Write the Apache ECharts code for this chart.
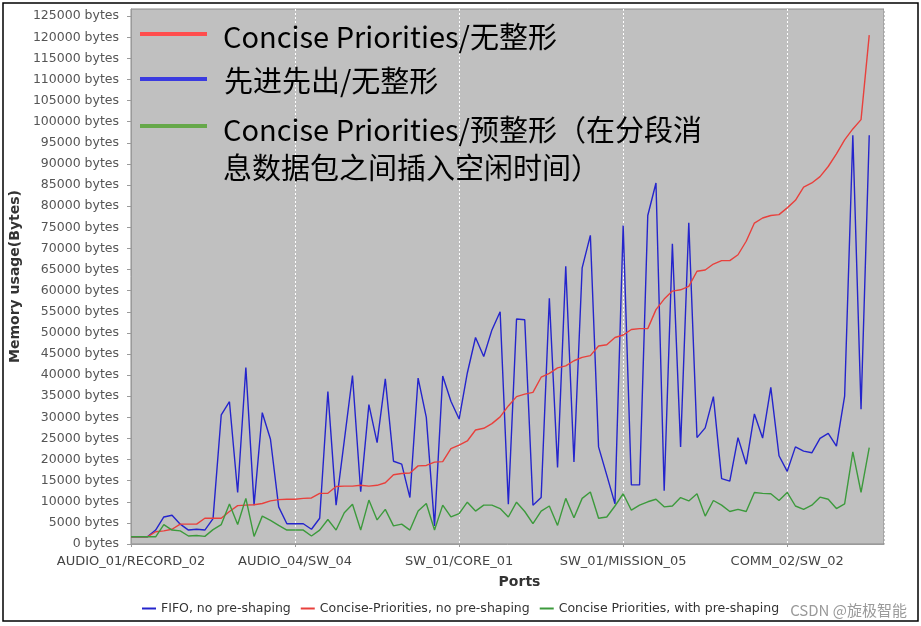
<!DOCTYPE html>
<html>
<head>
<meta charset="utf-8">
<script src="https://cdn.jsdelivr.net/npm/echarts@6/dist/echarts.min.js"></script>
<style>html,body{margin:0;padding:0;background:#fff;}#c{width:921px;height:626px;}</style>
</head>
<body>
<div id="c"></div>
<script>
// Tick labels of the port axis (one every 20 ports)
const portLabels = ['AUDIO_01/RECORD_02', 'AUDIO_04/SW_04', 'SW_01/CORE_01', 'SW_01/MISSION_05', 'COMM_02/SW_02'];
const portLabelStep = 20;

const seriesNames = ['FIFO, no pre-shaping', 'Concise-Priorities, no pre-shaping', 'Concise Priorities, with pre-shaping'];

// FIFO, no pre-shaping
const fifoNoShaping = [
  1700, 1700, 1700, 3300, 6400, 6800, 4700, 3300, 3500, 3300,
  6000, 30600, 33700, 12200, 41800, 9200, 31100, 24800, 8800, 4800,
  4800, 4800, 3500, 6100, 36100, 9200, 24500, 39900, 12400, 33000,
  24000, 39100, 19600, 18900, 11000, 39300, 30000, 4300, 39800, 33800,
  29600, 40500, 48900, 44400, 50700, 55000, 9400, 53300, 53100, 9200,
  11000, 58200, 18100, 65800, 19400, 65400, 73100, 23000, 16300, 9500,
  75400, 14000, 14000, 77800, 85500, 12600, 71100, 23000, 76100, 25200,
  27500, 34900, 15500, 14900, 25200, 18900, 30800, 25100, 37100, 20900,
  17200, 23000, 22000, 21600, 25000, 26200, 23200, 35000, 96800, 31900,
  96800
];

// Concise-Priorities, no pre-shaping
const cpNoShaping = [
  1700, 1700, 1700, 2900, 3100, 3500, 4700, 4700, 4700, 6100,
  6100, 6100, 7700, 9100, 9200, 9300, 9600, 10200, 10500, 10600,
  10600, 10800, 10900, 12000, 12000, 13600, 13700, 13700, 13900, 13700,
  13900, 14500, 16400, 16700, 16800, 18500, 18600, 19400, 19500, 22600,
  23400, 24400, 27000, 27400, 28500, 30100, 32700, 34900, 35500, 35900,
  39500, 40400, 41700, 42200, 43400, 44200, 44600, 46900, 47200, 48900,
  49500, 50800, 51000, 51000, 55500, 58000, 59900, 60200, 61000, 64600,
  64900, 66300, 67100, 67100, 68500, 71700, 76000, 77200, 77800, 78000,
  79600, 81400, 84500, 85500, 87000, 89400, 92400, 95700, 98300, 100500,
  120500
];

// Concise Priorities, with pre-shaping
const cpPreShaping = [
  1700, 1700, 1700, 1700, 4600, 3300, 3100, 1900, 2000, 1800,
  3400, 4600, 9500, 4600, 10800, 1800, 6600, 5600, 4400, 3300,
  3300, 3300, 1900, 3300, 5800, 3300, 7400, 9400, 3300, 10400,
  5700, 8200, 4300, 4700, 3300, 7800, 9600, 3300, 9200, 6400,
  7200, 9900, 7800, 9200, 9200, 8400, 6400, 9900, 7700, 4800,
  7800, 9000, 4400, 10800, 6200, 10800, 12300, 6100, 6400, 9000,
  11900, 8000, 9200, 10000, 10600, 8800, 9000, 11000, 10200, 11900,
  6600, 10300, 9200, 7700, 8200, 7700, 12200, 12000, 11900, 10300,
  12200, 9000, 8200, 9200, 11100, 10600, 8400, 9500, 21800, 12200,
  22800
];

// Annotation legend (overlay text in the plot)
const annoTexts = ['Concise Priorities/无整形', '先进先出/无整形', 'Concise Priorities/预整形（在分段消\n息数据包之间插入空闲时间）'];

const colors = ['#2424cc', '#e8403c', '#3c9a3c'];
const annoColors = ['#ff4d4d', '#3a3ae0', '#66a84a'];

const toPts = arr => arr.map((v, i) => [i, v]);

const chart = echarts.init(document.getElementById('c'));
const option = {
  animation: false,
  backgroundColor: '#fff',
  grid: {
    left: 130, right: 37, top: 9, bottom: 82,
    show: true, backgroundColor: '#c0c0c0', borderColor: '#8a8a8a', borderWidth: 1
  },
  xAxis: {
    type: 'value', min: 0, max: 91.8, interval: portLabelStep,
    name: 'Ports', nameLocation: 'middle', nameGap: 31,
    nameTextStyle: { fontFamily: 'DejaVu Sans', fontSize: 14, fontWeight: 'bold', color: '#333', padding: [0, 0, 0, 24] },
    axisLine: { show: true, lineStyle: { color: '#9a9a9a', width: 1 } },
    axisTick: { show: true, length: 3, lineStyle: { color: '#9a9a9a' } },
    axisLabel: {
      showMaxLabel: false, margin: 11,
      fontFamily: 'DejaVu Sans', fontSize: 13, color: '#444',
      formatter: v => portLabels[Math.round(v / portLabelStep)] || ''
    },
    splitLine: { show: true, lineStyle: { color: '#ffffff', type: [2, 2], width: 1 } }
  },
  yAxis: {
    type: 'value', min: 0, max: 126700, interval: 5000,
    name: 'Memory usage(Bytes)', nameLocation: 'middle', nameGap: 108,
    nameTextStyle: { fontFamily: 'DejaVu Sans', fontSize: 14, fontWeight: 'bold', color: '#333' },
    axisLine: { show: true, lineStyle: { color: '#9a9a9a', width: 1 } },
    axisTick: { show: true, length: 4, lineStyle: { color: '#9a9a9a' } },
    axisLabel: {
      showMaxLabel: false, margin: 12,
      fontFamily: 'DejaVu Sans', fontSize: 12.5, color: '#555',
      formatter: v => v + ' bytes'
    },
    splitLine: { show: false }
  },
  legend: {
    bottom: 6, left: 137, itemGap: 10,
    icon: 'rect', itemWidth: 14, itemHeight: 2,
    textStyle: { fontFamily: 'DejaVu Sans', fontSize: 12.5, color: '#333' },
    data: seriesNames
  },
  series: [
    { name: seriesNames[0], type: 'line', data: toPts(fifoNoShaping), showSymbol: false, symbol: 'none', lineStyle: { width: 1.4, color: colors[0] }, itemStyle: { color: colors[0] } },
    { name: seriesNames[1], type: 'line', data: toPts(cpNoShaping), showSymbol: false, symbol: 'none', lineStyle: { width: 1.4, color: colors[1] }, itemStyle: { color: colors[1] } },
    { name: seriesNames[2], type: 'line', data: toPts(cpPreShaping), showSymbol: false, symbol: 'none', lineStyle: { width: 1.4, color: colors[2] }, itemStyle: { color: colors[2] } }
  ],
  graphic: [
    { type: 'rect', shape: { x: 3, y: 3, width: 915, height: 618 }, style: { fill: 'none', stroke: '#000', lineWidth: 1.5 }, silent: true, z: 100 },
    { type: 'line', shape: { x1: 140, y1: 34, x2: 207, y2: 34 }, style: { stroke: annoColors[0], lineWidth: 4 }, z: 50 },
    { type: 'line', shape: { x1: 140, y1: 79, x2: 207, y2: 79 }, style: { stroke: annoColors[1], lineWidth: 4 }, z: 50 },
    { type: 'line', shape: { x1: 140, y1: 126, x2: 207, y2: 126 }, style: { stroke: annoColors[2], lineWidth: 4 }, z: 50 },
    { type: 'text', left: 223, top: 22, z: 50, style: { text: annoTexts[0], fontFamily: 'Noto Sans CJK SC', fontSize: 29, fill: '#000' } },
    { type: 'text', left: 224, top: 66, z: 50, style: { text: annoTexts[1], fontFamily: 'Noto Sans CJK SC', fontSize: 29, fill: '#000' } },
    { type: 'text', left: 223, top: 111, z: 50, style: { text: annoTexts[2], fontFamily: 'Noto Sans CJK SC', fontSize: 29, lineHeight: 38, fill: '#000' } },
    { type: 'text', right: 14, bottom: 8, z: 60, style: { text: 'CSDN @旋极智能', fontFamily: 'Noto Sans CJK SC', fontSize: 15, fill: '#9a9a9a' } }
  ]
};
chart.setOption(option);
</script>
</body>
</html>
